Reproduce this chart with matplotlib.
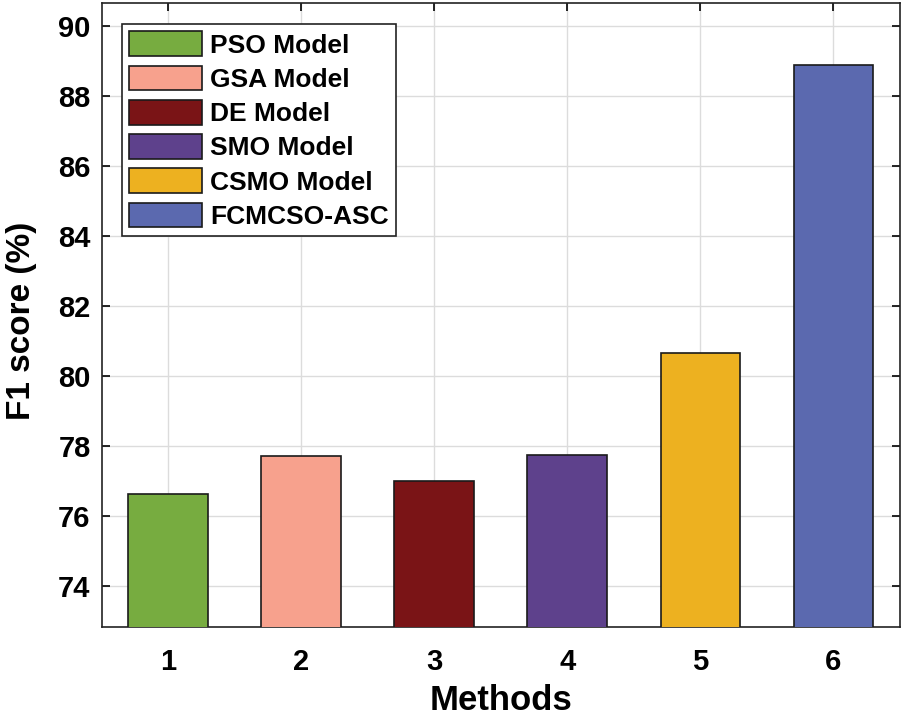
import numpy as np
import matplotlib
matplotlib.use("Agg")
import matplotlib.pyplot as plt

# data
methods = [1, 2, 3, 4, 5, 6]
f1_score = [76.62, 77.71, 76.99, 77.74, 80.64, 88.88]
labels = ["PSO Model", "GSA Model", "DE Model", "SMO Model", "CSMO Model", "FCMCSO-ASC"]
colors = ["#77AC40", "#F7A18D", "#7A1416", "#5E418C", "#EDB120", "#5B69AF"]
yticks = [74, 76, 78, 80, 82, 84, 86, 88, 90]

plt.rcParams["font.family"] = ["Liberation Sans", "DejaVu Sans"]
plt.rcParams["font.weight"] = "bold"
plt.rcParams["xtick.direction"] = "in"
plt.rcParams["ytick.direction"] = "in"
plt.rcParams["xtick.top"] = True
plt.rcParams["ytick.right"] = True

fig = plt.figure(figsize=(9.05, 7.21), dpi=100)
ax = fig.add_axes([101.7/905, 1 - 627.3/721, (900 - 101.7)/905, (627.3 - 2.7)/721])

for m, v, c, lab in zip(methods, f1_score, colors, labels):
    ax.bar(m, v - 60, bottom=60, width=0.6, color=c, edgecolor="#1a1a1a",
           linewidth=1.2, label=lab, zorder=3)

ax.set_xlim(0.5, 6.5)
ax.set_ylim(72.81, 90.67)
ax.set_xticks(methods)
ax.set_yticks(yticks)
ax.tick_params(labelsize=21, length=6, width=1.2)
ax.tick_params(axis="x", pad=15)
ax.tick_params(axis="y", pad=8)
ax.grid(True, color="#dcdcdc", linewidth=1.0, zorder=0)
ax.set_axisbelow(True)
for sp in ax.spines.values():
    sp.set_linewidth(1.2)
    sp.set_color("#222222")

ax.set_xlabel("Methods", fontsize=25, fontweight="bold")
ax.xaxis.set_label_coords(0.5, -(700 - 627.3)/624.6)
ax.xaxis.label.set_va("center")
ax.set_ylabel("F1 score (%)", fontsize=24, fontweight="bold")
ax.yaxis.set_label_coords(-(101.7 - 21)/798.3, 1 - (321 - 2.7)/624.6)
ax.yaxis.label.set_va("center")

leg = ax.legend(loc="upper left", bbox_to_anchor=(20/798.3, 1 - 21.6/624.6),
                frameon=True, fancybox=False, borderaxespad=0,
                handlelength=2.78, handleheight=1.06, labelspacing=0.3,
                handletextpad=0.31, borderpad=0.27, prop={"weight": "bold", "size": 19})
leg.get_frame().set_edgecolor("#222222")
leg.get_frame().set_linewidth(1.2)
leg.get_frame().set_alpha(1)

fig.savefig("out.png", dpi=100)
